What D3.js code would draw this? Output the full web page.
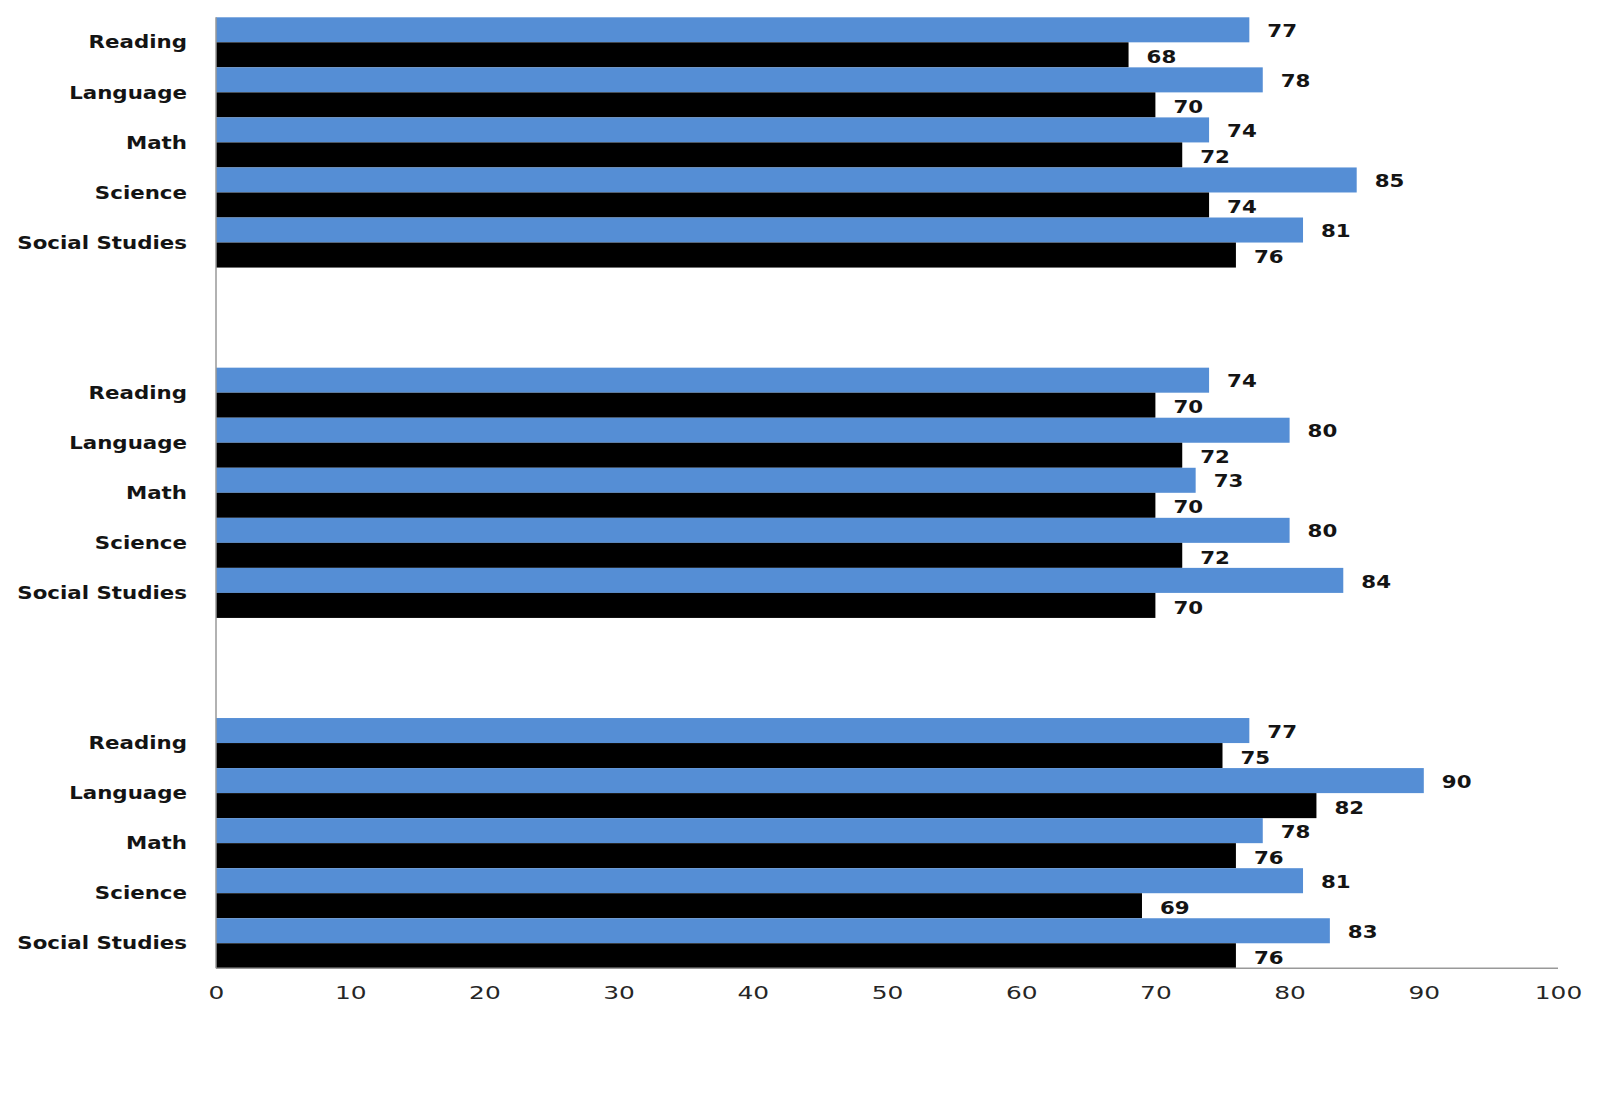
<!DOCTYPE html>
<html>
<head>
<meta charset="utf-8">
<script src="https://cdn.jsdelivr.net/npm/d3@7"></script>
<style>
  html, body { margin: 0; padding: 0; background: #fff; }
  svg { display: block; }
</style>
</head>
<body>
<svg id="chart" width="1600" height="1101"></svg>
<script>
// ---- Data ----
const subjects = ["Reading", "Language", "Math", "Science", "Social Studies"];
const groups = ["g1", "g2", "g3"];
const seriesBlue = [
  [77, 78, 74, 85, 81],
  [74, 80, 73, 80, 84],
  [77, 90, 78, 81, 83]
];
const seriesBlack = [
  [68, 70, 72, 74, 76],
  [70, 72, 70, 72, 70],
  [75, 82, 76, 69, 76]
];
const xTicks = [0, 10, 20, 30, 40, 50, 60, 70, 80, 90, 100];
const colors = { blue: "#558ED5", black: "#000000" };

(function () {
// ---- Build slots (5 categories per group, 2 empty slots between groups) ----
const slots = [];
const rows = [];
groups.forEach((g, gi) => {
  subjects.forEach((s, si) => {
    const key = g + "|" + s;
    slots.push(key);
    rows.push({ key, subject: s, blue: seriesBlue[gi][si], black: seriesBlack[gi][si] });
  });
  if (gi < groups.length - 1) {
    slots.push(g + "|gapA");
    slots.push(g + "|gapB");
  }
});

const svg = d3.select("#chart");
const mLeft = 216, mRight = 1558, mTop = 17.3, mBottom = 968.3;

const x = d3.scaleLinear().domain([0, 100]).range([mLeft, mRight]);
const y = d3.scaleBand().domain(slots).range([mTop, mBottom]).padding(0);
const inner = d3.scaleBand().domain(["blue", "black"]).range([0, y.bandwidth()]).padding(0);

const STRETCH = 1.22;

// bars
const rowG = svg.append("g").selectAll("g").data(rows).join("g")
  .attr("transform", d => `translate(0,${y(d.key)})`);

["blue", "black"].forEach(s => {
  rowG.append("rect")
    .attr("x", x(0))
    .attr("y", inner(s))
    .attr("width", d => x(d[s]) - x(0))
    .attr("height", inner.bandwidth())
    .attr("fill", colors[s]);
  rowG.append("text")
    .attr("transform", d => `translate(${x(d[s]) + 18},${inner(s) + inner.bandwidth() / 2 + (s === "black" ? 2 : 1)}) scale(${STRETCH},1)`)
    .attr("dy", "0.35em")
    .attr("font-family", "DejaVu Sans, Verdana, sans-serif")
    .attr("font-weight", "bold")
    .attr("font-size", 17.5)
    .attr("fill", "#141414")
    .text(d => d[s]);
});

// left axis
const yAxis = d3.axisLeft(y)
  .tickValues(rows.map(r => r.key))
  .tickFormat(k => k.split("|")[1])
  .tickSize(0);
const gy = svg.append("g").attr("transform", `translate(${mLeft},0)`).call(yAxis);
gy.select(".domain").remove();
gy.selectAll(".tick text")
  .attr("x", null)
  .attr("transform", `translate(-29,0) scale(${STRETCH},1)`)
  .attr("dy", "0.35em")
  .attr("text-anchor", "end")
  .attr("font-family", "DejaVu Sans, Verdana, sans-serif")
  .attr("font-weight", "bold")
  .attr("font-size", 17.5)
  .attr("fill", "#141414");

// bottom axis
const xAxis = d3.axisBottom(x).tickValues(xTicks).tickSize(0).tickFormat(d3.format("d"));
const gx = svg.append("g").attr("transform", `translate(0,${mBottom})`).call(xAxis);
gx.select(".domain").remove();
gx.selectAll(".tick text")
  .attr("y", null)
  .attr("transform", `translate(0,24.5) scale(1.38,1)`)
  .attr("dy", "0.35em")
  .attr("font-family", "DejaVu Sans, Verdana, sans-serif")
  .attr("font-size", 18)
  .attr("fill", "#262626");

// axis lines
svg.append("line").attr("x1", mLeft).attr("x2", mLeft).attr("y1", mTop).attr("y2", mBottom)
  .attr("stroke", "#999").attr("stroke-width", 1.5);
svg.append("line").attr("x1", mLeft).attr("x2", mRight).attr("y1", mBottom).attr("y2", mBottom)
  .attr("stroke", "#999").attr("stroke-width", 1.5);
})();
</script>
</body>
</html>
